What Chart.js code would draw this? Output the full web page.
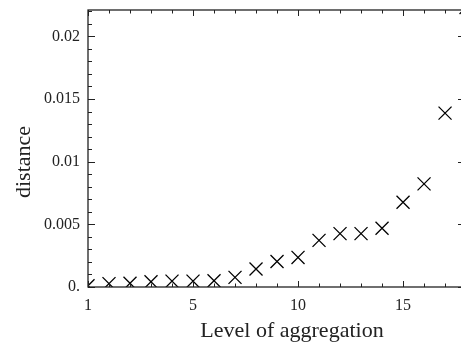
<!DOCTYPE html>
<html>
<head>
<meta charset="utf-8">
<script src="https://cdn.jsdelivr.net/npm/chart.js@4.4.0/dist/chart.umd.min.js"></script>
<style>
  html, body { margin: 0; padding: 0; background: #fff; overflow: hidden; }
  #wrap { width: 466px; height: 343px; }
</style>
</head>
<body>
<div id="wrap"><canvas id="chart"></canvas></div>
<script>
// level of aggregation (position on axis) and distance
var levels = [0, 1, 2, 3, 4, 5, 6, 7, 8, 9, 10, 11, 12, 13, 14, 15, 16, 17, 18];
var distances = [0.0001, 0.00027, 0.0003, 0.00042, 0.00047, 0.00047, 0.0005, 0.00077,
  0.00143, 0.00204, 0.00236, 0.00372, 0.00426, 0.00426, 0.00469, 0.00676, 0.00823, 0.01387, 0.0223];

var xTicks = [0, 5, 10, 15];
var xTickLabels = ["1", "5", "10", "15"];
var yTicks = [0, 0.005, 0.01, 0.015, 0.02];
var yTickLabels = ["0.", "0.005", "0.01", "0.015", "0.02"];
var xTitle = "Level of aggregation";
var yTitle = "distance";

var points = levels.map(function(x, i) { return { x: x, y: distances[i] }; });

var ink = '#222';
var serif = "'Liberation Serif', 'DejaVu Serif', serif";

// frame with inward ticks on all four sides, plus both axis titles
var framePlugin = {
  id: 'frame',
  afterDraw: function(chart) {
    var ctx = chart.ctx, a = chart.chartArea;
    var xs = chart.scales.x, ys = chart.scales.y;
    ctx.save();
    ctx.strokeStyle = ink;
    ctx.lineWidth = 1;
    for (var v = 0; v <= 17; v++) {
      var px = Math.round(xs.getPixelForValue(v)) + 0.5;
      var len = (v % 5 === 0) ? 6 : 3.5;
      ctx.beginPath();
      ctx.moveTo(px, a.bottom); ctx.lineTo(px, a.bottom - len);
      ctx.moveTo(px, a.top); ctx.lineTo(px, a.top + len);
      ctx.stroke();
    }
    for (var k = 0; k <= 22; k++) {
      var py = Math.round(ys.getPixelForValue(k * 0.001)) + 0.5;
      var l2 = (k % 5 === 0) ? 7 : 4;
      ctx.beginPath();
      ctx.moveTo(a.left, py); ctx.lineTo(a.left + l2, py);
      ctx.moveTo(a.right, py); ctx.lineTo(a.right - l2, py);
      ctx.stroke();
    }
    ctx.lineWidth = 1.3;
    ctx.strokeRect(a.left, a.top, a.right - a.left, a.bottom - a.top);

    // titles sit a little off the frame centre in the original
    ctx.fillStyle = ink;
    ctx.font = "22px " + serif;
    ctx.textAlign = 'center';
    ctx.textBaseline = 'alphabetic';
    ctx.fillText(xTitle, a.left + 204, a.bottom + 50);

    ctx.translate(24, a.top + 152);
    ctx.rotate(-Math.PI / 2);
    ctx.textBaseline = 'middle';
    ctx.fillText(yTitle, 0, 0);
    ctx.restore();
  }
};

new Chart(document.getElementById("chart"), {
  type: 'scatter',
  data: {
    datasets: [{
      data: points,
      pointStyle: 'crossRot',
      pointRadius: 9.2,
      pointHoverRadius: 9.2,
      borderColor: '#000',
      backgroundColor: '#000',
      pointBorderWidth: 1.3,
      showLine: false
    }]
  },
  options: {
    responsive: true,
    maintainAspectRatio: false,
    animation: false,
    layout: { autoPadding: false, padding: { top: 10, right: 1, left: 0, bottom: 0 } },
    plugins: { legend: { display: false }, tooltip: { enabled: false } },
    scales: {
      x: {
        type: 'linear',
        min: 0,
        max: 17.95,
        border: { display: false },
        grid: { display: false, drawTicks: false },
        afterBuildTicks: function(scale) {
          scale.ticks = xTicks.map(function(v) { return { value: v }; });
        },
        afterFit: function(scale) {
          scale.height = 56;
          scale.paddingLeft = 0;
          scale.paddingRight = 0;
        },
        ticks: {
          padding: 9,
          maxRotation: 0,
          color: ink,
          font: { family: serif, size: 16 },
          callback: function(value) {
            var i = xTicks.indexOf(value);
            return i >= 0 ? xTickLabels[i] : '';
          }
        }
      },
      y: {
        type: 'linear',
        min: 0,
        max: 0.0221,
        border: { display: false },
        grid: { display: false, drawTicks: false },
        afterBuildTicks: function(scale) {
          scale.ticks = yTicks.map(function(v) { return { value: v }; });
        },
        afterFit: function(scale) {
          scale.width = 88;
          scale.paddingTop = 0;
          scale.paddingBottom = 0;
        },
        ticks: {
          padding: 8,
          color: ink,
          font: { family: serif, size: 16 },
          callback: function(value) {
            var i = yTicks.indexOf(value);
            return i >= 0 ? yTickLabels[i] : '';
          }
        }
      }
    }
  },
  plugins: [framePlugin]
});
</script>
</body>
</html>
